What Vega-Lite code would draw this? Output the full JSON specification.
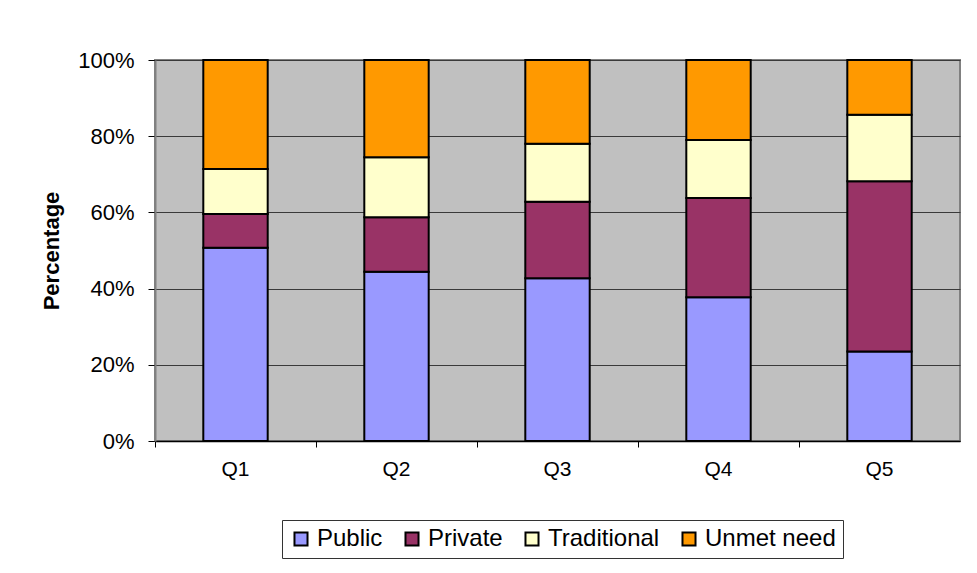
{
  "$schema": "https://vega.github.io/schema/vega-lite/v6.json",
  "width": 805,
  "height": 381,
  "autosize": "none",
  "padding": {"left": 155, "top": 60, "right": 17, "bottom": 132},
  "background": "white",
  "data": {
    "values": [
      {"q": "Q1", "type": "Public", "k": 1, "v": 50.7},
      {"q": "Q1", "type": "Private", "k": 2, "v": 8.9},
      {"q": "Q1", "type": "Traditional", "k": 3, "v": 11.8},
      {"q": "Q1", "type": "Unmet need", "k": 4, "v": 28.6},
      {"q": "Q2", "type": "Public", "k": 1, "v": 44.4},
      {"q": "Q2", "type": "Private", "k": 2, "v": 14.3},
      {"q": "Q2", "type": "Traditional", "k": 3, "v": 15.8},
      {"q": "Q2", "type": "Unmet need", "k": 4, "v": 25.5},
      {"q": "Q3", "type": "Public", "k": 1, "v": 42.7},
      {"q": "Q3", "type": "Private", "k": 2, "v": 20.1},
      {"q": "Q3", "type": "Traditional", "k": 3, "v": 15.2},
      {"q": "Q3", "type": "Unmet need", "k": 4, "v": 22.0},
      {"q": "Q4", "type": "Public", "k": 1, "v": 37.7},
      {"q": "Q4", "type": "Private", "k": 2, "v": 26.1},
      {"q": "Q4", "type": "Traditional", "k": 3, "v": 15.2},
      {"q": "Q4", "type": "Unmet need", "k": 4, "v": 21.0},
      {"q": "Q5", "type": "Public", "k": 1, "v": 23.5},
      {"q": "Q5", "type": "Private", "k": 2, "v": 44.7},
      {"q": "Q5", "type": "Traditional", "k": 3, "v": 17.4},
      {"q": "Q5", "type": "Unmet need", "k": 4, "v": 14.4}
    ]
  },
  "mark": {"type": "bar", "width": {"band": 0.4}, "stroke": "black", "strokeWidth": 2},
  "encoding": {
    "x": {
      "field": "q", "type": "nominal", "sort": null,
      "scale": {"paddingInner": 0, "paddingOuter": 0},
      "axis": {
        "title": null, "labelAngle": 0, "bandPosition": 0,
        "ticks": true, "tickSize": 6, "tickColor": "black", "domainColor": "black", "domainWidth": 1.5,
        "labelFontSize": 21, "labelPadding": 11, "grid": false, "labelColor": "black"
      }
    },
    "y": {
      "field": "v", "type": "quantitative", "stack": "normalize",
      "scale": {"domain": [0, 1], "nice": false},
      "axis": {
        "title": "Percentage", "format": ".0%", "values": [0, 0.2, 0.4, 0.6, 0.8, 1],
        "labelOverlap": false, "labelFlush": false,
        "labelFontSize": 22, "labelPadding": 14, "tickSize": 7, "tickColor": "black",
        "domainColor": "#808080", "domainWidth": 2, "labelColor": "black",
        "titleFontSize": 22, "titleFontWeight": "bold", "titlePadding": 14, "titleColor": "black",
        "grid": true, "gridColor": "#3a3a3a", "gridWidth": 1
      }
    },
    "color": {
      "field": "type", "type": "nominal",
      "scale": {"domain": ["Public", "Private", "Traditional", "Unmet need"], "range": ["#9999FF", "#993366", "#FFFFCC", "#FF9900"]},
      "legend": {
        "title": null, "orient": "none", "legendX": 127, "legendY": 460, "direction": "horizontal",
        "strokeColor": "#333333", "padding": 7, "fillColor": "white",
        "symbolType": "square", "symbolSize": 170, "symbolStrokeColor": "black", "symbolStrokeWidth": 2,
        "labelFontSize": 24, "labelColor": "black", "columnPadding": 17, "labelOffset": 4
      }
    },
    "order": {"field": "k", "type": "quantitative"}
  },
  "config": {
    "font": "Liberation Sans",
    "view": {"fill": "#C0C0C0", "stroke": "#808080", "strokeWidth": 2}
  }
}
